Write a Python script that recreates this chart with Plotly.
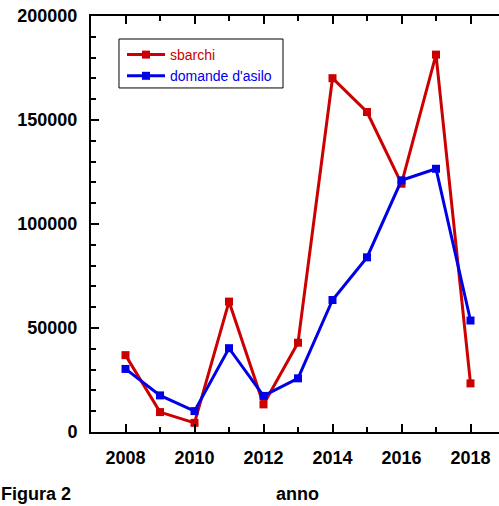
import plotly.graph_objects as go

# Arrivi via mare e domande d'asilo in Italia, 2008-2018
anni = [2008, 2009, 2010, 2011, 2012, 2013, 2014, 2015, 2016, 2017, 2018]
sbarchi = [36951, 9573, 4406, 62692, 13267, 42925, 170100, 153842, 119369, 181436, 23370]
domande_asilo = [30324, 17603, 10050, 40300, 17352, 25800, 63456, 83970, 121000, 126550, 53596]

x_ticks = [2008, 2010, 2012, 2014, 2016, 2018]
y_ticks = [0, 50000, 100000, 150000, 200000]

ROSSO = "#CC0000"
BLU = "#0000E6"
FONT = "Liberation Sans, Arial, sans-serif"

fig = go.Figure()
fig.add_trace(go.Scatter(
    x=anni, y=sbarchi, mode="lines+markers",
    name=f"<span style='color:{ROSSO}'>sbarchi</span>",
    line=dict(color=ROSSO, width=3),
    marker=dict(symbol="square", size=8, color=ROSSO),
))
fig.add_trace(go.Scatter(
    x=anni, y=domande_asilo, mode="lines+markers",
    name=f"<span style='color:{BLU}'>domande d'asilo</span>",
    line=dict(color=BLU, width=3),
    marker=dict(symbol="square", size=8, color=BLU),
))

tick_font = dict(family=FONT, size=18, color="black", weight="bold")
axis_common = dict(
    showgrid=False, zeroline=False,
    showline=True, linecolor="black", linewidth=2,
    ticks="inside", tickcolor="black", tickwidth=2, ticklen=8,
    tickfont=tick_font,
    ticklabelstandoff=8,
)

# the frame runs past the right edge of the page, so only the top is mirrored
fig.update_xaxes(
    range=[2007, 2018.826], tickvals=x_ticks, ticktext=[str(v) for v in x_ticks],
    mirror="allticks",
    minor=dict(ticks="inside", dtick=1, tick0=2007, ticklen=5, tickwidth=2, tickcolor="black"),
    **axis_common,
)
fig.update_yaxes(
    range=[0, 200000], tickvals=y_ticks, ticktext=[str(v) for v in y_ticks],
    mirror=False,
    minor=dict(ticks="inside", dtick=10000, tick0=0, ticklen=5, tickwidth=2, tickcolor="black"),
    **axis_common,
)

fig.update_layout(
    width=499, height=506,
    margin=dict(l=91, r=0, t=16, b=74),
    paper_bgcolor="white", plot_bgcolor="white",
    font=dict(family=FONT, color="black"),
    showlegend=True,
    legend=dict(
        x=0.076, y=0.9447, xanchor="left", yanchor="top",
        bgcolor="rgba(0,0,0,0)", borderwidth=0,
        font=dict(family=FONT, size=14),
        itemwidth=38, tracegroupgap=0,
    ),
    shapes=[
        # legend frame
        dict(type="rect", xref="paper", yref="paper",
             x0=0.0686, x1=0.4706, y0=0.827, y1=0.9447,
             line=dict(color="black", width=1), fillcolor="rgba(0,0,0,0)",
             layer="above"),
    ],
    annotations=[
        dict(text="anno", xref="paper", yref="paper", x=0.507, y=-0.149,
             xanchor="center", yanchor="middle", showarrow=False,
             font=dict(family=FONT, size=18, color="black", weight="bold")),
        dict(text="Figura 2", xref="paper", yref="paper", x=-0.2255, y=-0.149,
             xanchor="left", yanchor="middle", showarrow=False,
             font=dict(family=FONT, size=18, color="black", weight="bold")),
    ],
)

fig.write_html("out.html")
